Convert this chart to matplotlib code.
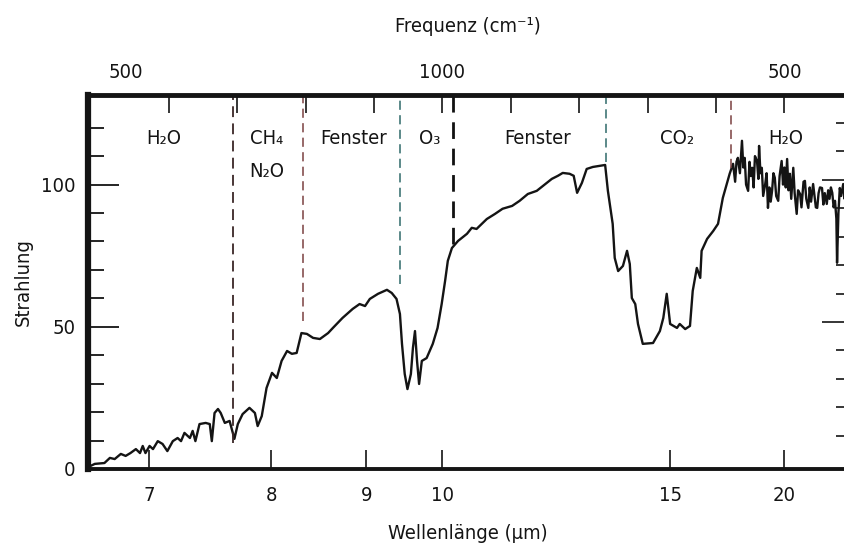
import numpy as np
import matplotlib
matplotlib.use('Agg')
import matplotlib.pyplot as plt

plt.rcParams['font.family'] = ['Liberation Sans Narrow', 'DejaVu Sans']
plt.rcParams['font.stretch'] = 'condensed'

# spectrum: wavenumber (cm-1) and radiance
wavenumber = [1515, 1508, 1494, 1486, 1479, 1470, 1463, 1456, 1448, 1442, 1438, 1434,
              1428, 1423, 1416, 1409, 1402, 1394, 1387, 1382, 1377, 1369, 1365, 1361,
              1355, 1346, 1340, 1337, 1333, 1328, 1324, 1318, 1311, 1304,
              1299, 1292, 1282, 1274, 1270, 1264, 1257, 1249, 1242, 1235, 1227, 1220,
              1213, 1206, 1198, 1189, 1179, 1167,
              1160, 1146, 1131, 1121, 1113, 1106, 1094, 1081, 1074, 1067, 1062, 1059,
              1055, 1051, 1046, 1043, 1040, 1037, 1034, 1030, 1023, 1014, 1007, 1001,
              996, 992,
              986, 977, 964, 957, 950, 935, 923, 912, 898, 887, 875, 862, 853, 840,
              831, 824, 814, 808, 803, 796, 789, 780, 770, 762, 758, 751, 748, 743,
              736, 730, 726, 723, 718, 714, 707, 692, 682, 677, 672, 667, 657, 653,
              645, 638, 634, 628, 623, 621, 613, 604, 597, 590, 580,
              575, 572, 570, 568, 565, 562, 560, 558, 556, 553, 551, 549, 547, 545,
              543, 540, 538, 537, 535, 533, 531, 528, 526, 524, 522, 520, 518, 516,
              514, 512, 509, 507, 504, 502, 500, 498, 496, 494, 492, 490, 487, 485,
              482, 480, 477, 475, 472, 470, 468, 465, 463, 461, 458, 456, 454, 452,
              450, 448, 445, 443, 441, 438, 436, 434, 432, 430, 428, 426, 424, 423,
              421, 419, 417, 414, 412, 410, 406]
radiance = [1.0, 1.8, 2.1, 3.9, 3.5, 5.3, 4.6, 5.6, 7.0, 5.6, 8.1, 5.6,
            8.1, 7.0, 9.8, 8.8, 6.3, 9.8, 10.9, 9.8, 12.7, 10.9, 13.4, 9.8,
            15.8, 16.2, 15.8, 9.8, 19.7, 21.1, 19.7, 16.2, 16.9, 10.6,
            15.8, 19.3, 21.5, 19.7, 15.1, 18.6, 28.5, 33.8, 32.0, 38.0, 41.5, 40.5,
            40.8, 47.8, 47.5, 46.1, 45.7, 47.8,
            49.6, 53.1, 56.3, 58.0, 57.3, 59.8, 61.6, 63.0, 61.9, 59.8, 54.5, 44.0,
            33.4, 28.1, 33.4, 42.6, 48.5, 38.0, 29.9, 38.0, 39.0, 44.0, 49.6, 58.0,
            66.1, 73.2,
            77.7, 80.2, 82.7, 84.8, 84.4, 87.9, 89.7, 91.5, 92.5, 94.3, 96.7, 97.8, 99.5, 102.0,
            103.1, 104.1, 103.8, 103.1, 97.1, 100.6, 105.5, 106.2, 106.6, 106.9, 97.8, 86.2, 74.2, 69.6,
            71.4, 76.7, 72.1, 60.1, 58.0, 51.0, 44.0, 44.3, 48.5, 53.1, 61.6, 51.0, 49.6, 51.0,
            49.2, 50.3, 62.6, 70.7, 67.2, 76.7, 80.9, 83.7, 86.2, 95.3, 103.8,
            107.3, 101, 108, 109.4, 104, 115.4, 106, 109.4, 100, 97.8, 108, 103, 105.9, 99,
            110, 108.3, 102, 113.6, 104, 105.9, 96, 100.2, 104, 91.8, 99, 94, 97.8, 104,
            102.4, 96, 94.3, 103, 108.3, 100, 106, 99, 109.0, 98, 103.8, 95, 105.9, 97,
            89.7, 98, 96.7, 92, 101, 101.3, 95, 91.8, 99, 94, 100.2, 96, 92, 91.8,
            97, 99, 98.8, 93, 97, 93.2, 98, 95, 99, 97.1, 92, 94.3, 88, 72.5,
            90, 98.8, 96, 100.2, 95, 97.8, 96]

# axis ticks
wl_ticks = [7, 8, 9, 10, 15, 20]
wn_major = [1000, 500]
wn_major_labels = ['1000', '500']
wn_minor = [1400, 1300, 1200, 1100, 900, 800, 700, 600]
y_major = [0, 50, 100]
y_minor = [10, 20, 30, 40, 60, 70, 80, 90, 110, 120]

# band borders (cm-1) and the radiance where each dashed line stops
border_wn = [1306, 1204, 1062, 985, 761, 578]
border_end = [9, 52, 65, 79, 108, 106]

# band names
band_names = ['H₂O', 'CH₄', 'N₂O', 'Fenster', 'O₃', 'Fenster', 'CO₂', 'H₂O']
band_wn = [1407, 1257, 1257, 1130, 1018, 860, 657, 498]
band_y = [114.4, 114.4, 102.5, 114.4, 114.4, 114.4, 114.4, 114.4]

ink = '#141414'
border_colors = ['#3a2626', '#7a4040', '#2f6a6a', '#111111', '#2f6a6a', '#7a4040']
border_widths = [1.3, 1.1, 1.1, 2.0, 1.1, 1.1]
fs = 14.5
ytop = 131.5

fig = plt.figure(figsize=(8.45, 5.47), dpi=100)
ax = fig.add_axes([88 / 845, 78 / 547, 760 / 845, 374 / 547])

ax.plot(wavenumber, radiance, color=ink, lw=1.7)

for x, end, c, w in zip(border_wn, border_end, border_colors, border_widths):
    ax.vlines(x, end, ytop, colors=c, linewidth=w, linestyles=(0, (6, 3.5)))

for name, x, y in zip(band_names, band_wn, band_y):
    ax.text(x, y, name, ha='center', va='baseline', fontsize=fs, color=ink)

ax.set_xlim(1518, 407)
ax.set_ylim(0, ytop)

# bottom: wavelength in um
ax.set_xticks(1e4 / np.array(wl_ticks), [str(w) for w in wl_ticks])
ax.set_yticks(y_major, [str(v) for v in y_major])
ax.set_yticks(y_minor, minor=True)
ax.tick_params(axis='x', which='major', direction='in', length=14, width=1.2,
               pad=12, labelsize=fs, colors=ink)
ax.tick_params(axis='y', which='major', direction='in', length=22, width=1.3,
               pad=9, labelsize=fs, colors=ink)
ax.tick_params(axis='y', which='minor', direction='in', length=11.5, width=1.3, colors=ink)
ax.set_xlabel('Wellenlänge (µm)', fontsize=fs, color=ink, labelpad=14)
ax.set_ylabel('Strahlung', fontsize=fs, color=ink, labelpad=6)

ax.spines['left'].set_linewidth(4.5)
ax.spines['top'].set_linewidth(3.5)
ax.spines['bottom'].set_linewidth(2.8)
ax.spines['right'].set_visible(False)
for s in ax.spines.values():
    s.set_color(ink)

# top: frequency in cm-1
top = ax.secondary_xaxis('top')
top.set_xticks(wn_major, wn_major_labels)
top.set_xticks(wn_minor, minor=True)
top.tick_params(which='both', direction='in', length=13, width=1.2, pad=9,
                labelsize=fs, colors=ink)
top.spines['top'].set_visible(False)
top.set_xlabel('Frequenz (cm⁻¹)', fontsize=fs, color=ink, labelpad=23)
ax.annotate('500', xy=(1463, 1), xycoords=('data', 'axes fraction'),
            xytext=(0, 9), textcoords='offset points', ha='center', va='bottom',
            fontsize=fs, color=ink)

# right: unlabeled scale, shifted slightly
right = ax.secondary_yaxis('right', functions=(lambda y: y - 1.7, lambda y: y + 1.7))
right.set_yticks([50, 100], ['', ''])
right.set_yticks([10, 20, 30, 40, 60, 70, 80, 90, 110, 120], minor=True)
right.tick_params(which='major', direction='in', length=19, width=1.2, colors=ink)
right.tick_params(which='minor', direction='in', length=9, width=1.2, colors=ink)
right.spines['right'].set_visible(False)

fig.savefig('out.png', dpi=100)
